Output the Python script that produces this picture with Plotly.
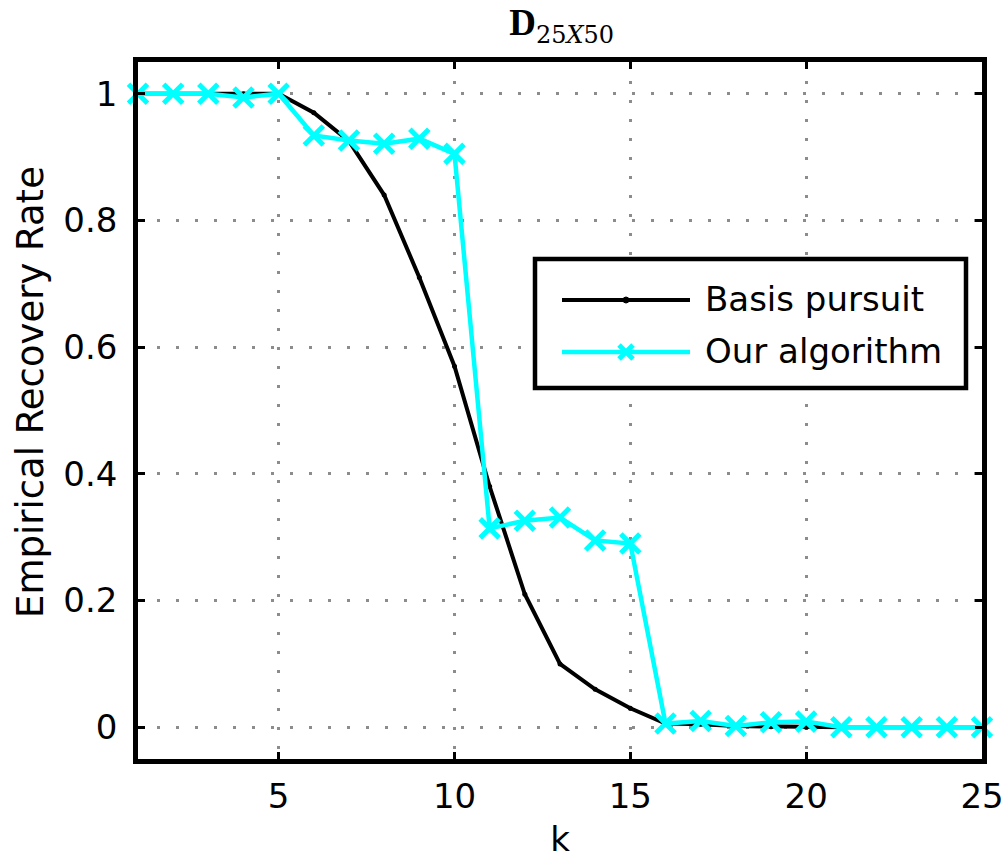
import plotly.graph_objects as go

# ---------------- data ----------------
k = list(range(1, 26))
basis_pursuit = [1.0, 1.0, 1.0, 1.0, 1.0, 0.97, 0.925, 0.84, 0.71, 0.57,
                 0.38, 0.21, 0.10, 0.06, 0.03, 0.006, 0.005, 0.002, 0.001, 0.0,
                 0.0, 0.0, 0.0, 0.0, 0.0]
our_algorithm = [1.0, 1.0, 1.0, 0.994, 1.0, 0.934, 0.926, 0.921, 0.929, 0.905,
                 0.314, 0.326, 0.331, 0.295, 0.29, 0.006, 0.01, 0.002, 0.008, 0.009,
                 0.0, 0.0, 0.0, 0.0, 0.0]
series_names = ["Basis pursuit", "Our algorithm"]
x_ticks = [5, 10, 15, 20, 25]
y_ticks = [0, 0.2, 0.4, 0.6, 0.8, 1]
y_tick_text = ["0", "0.2", "0.4", "0.6", "0.8", "1"]
title_html = ("<b>D</b><sub><span style='font-family:DejaVu Serif;font-size:24px'>"
              "25<i>X</i>50</span></sub>")
x_label = "k"
y_label = "Empirical Recovery Rate"

# ---------------- layout geometry (pixels) ----------------
W, H = 1004, 859
L, R, T, B = 138, 982, 62, 759
FONT = "DejaVu Sans"
CYAN = "#00FFFF"


def px(xp):
    return (xp - L) / (R - L)


def py(yp):
    return (B - yp) / (B - T)


fig = go.Figure()
fig.add_trace(go.Scatter(
    x=k, y=basis_pursuit, mode="lines+markers", name=series_names[0],
    line=dict(color="black", width=4),
    marker=dict(symbol="circle", size=5, color="black"),
    showlegend=False, cliponaxis=False))
fig.add_trace(go.Scatter(
    x=k, y=our_algorithm, mode="lines+markers", name=series_names[1],
    line=dict(color=CYAN, width=4.5),
    marker=dict(symbol="x-thin", size=19, color=CYAN,
                line=dict(color=CYAN, width=5)),
    showlegend=False, cliponaxis=False))

axis_common = dict(
    showline=True, linecolor="black", linewidth=4.5, mirror="ticks",
    ticks="inside", ticklen=7, tickwidth=3, tickcolor="black",
    showgrid=True, gridcolor="#8c8c8c", gridwidth=3, griddash="3px,16px",
    zeroline=False, automargin=False,
    tickfont=dict(family=FONT, size=34, color="black"),
)

fig.update_xaxes(range=[1, 25], tickvals=x_ticks, ticklabelstandoff=3,
                 title=dict(text=x_label, font=dict(family=FONT, size=34, color="black"),
                            standoff=14),
                 **axis_common)
fig.update_yaxes(range=[-0.05, 1.05], tickvals=y_ticks, ticktext=y_tick_text,
                 ticklabelstandoff=9,
                 **axis_common)

# ---------------- custom legend (box, samples, labels) ----------------
lx0, lx1, ly0, ly1 = 535, 966, 259, 388
sx0, sx1, smid = 562, 690, 626
rows_y = [300, 352]
shapes = [
    dict(type="rect", xref="paper", yref="paper",
         x0=px(lx0), x1=px(lx1), y0=py(ly1), y1=py(ly0),
         line=dict(color="black", width=4.5), fillcolor="white", layer="above"),
    dict(type="line", xref="paper", yref="paper",
         x0=px(sx0), x1=px(sx1), y0=py(rows_y[0]), y1=py(rows_y[0]),
         line=dict(color="black", width=4), layer="above"),
    dict(type="circle", xref="paper", yref="paper",
         x0=px(smid - 3), x1=px(smid + 3), y0=py(rows_y[0] + 3), y1=py(rows_y[0] - 3),
         line=dict(color="black", width=1), fillcolor="black", layer="above"),
    dict(type="line", xref="paper", yref="paper",
         x0=px(sx0), x1=px(sx1), y0=py(rows_y[1]), y1=py(rows_y[1]),
         line=dict(color=CYAN, width=4.5), layer="above"),
]
m = 7
for dx, dy in [(1, 1), (1, -1)]:
    shapes.append(dict(type="line", xref="paper", yref="paper",
                       x0=px(smid - m * dx), x1=px(smid + m * dx),
                       y0=py(rows_y[1] - m * dy), y1=py(rows_y[1] + m * dy),
                       line=dict(color=CYAN, width=5), layer="above"))

annotations = []
for name, yy in zip(series_names, rows_y):
    annotations.append(dict(xref="paper", yref="paper", x=px(703), y=py(yy - 1),
                            xanchor="left", yanchor="middle", text=name, showarrow=False,
                            font=dict(family=FONT, size=34, color="black")))
# y-axis title
annotations.append(dict(xref="paper", yref="paper", x=px(30), y=py(392),
                        xanchor="center", yanchor="middle", textangle=-90,
                        text=y_label, showarrow=False,
                        font=dict(family=FONT, size=37, color="black")))

fig.update_layout(
    width=W, height=H,
    margin=dict(l=L, r=W - R, t=T, b=H - B, autoexpand=False),
    paper_bgcolor="white", plot_bgcolor="white",
    title=dict(text=title_html, xref="paper", x=0.502, xanchor="center",
               yref="container", y=1 - 22 / H, yanchor="middle",
               font=dict(family="Liberation Serif", size=37, color="black")),
    shapes=shapes, annotations=annotations,
    showlegend=False,
)

fig.write_html("out.html")
